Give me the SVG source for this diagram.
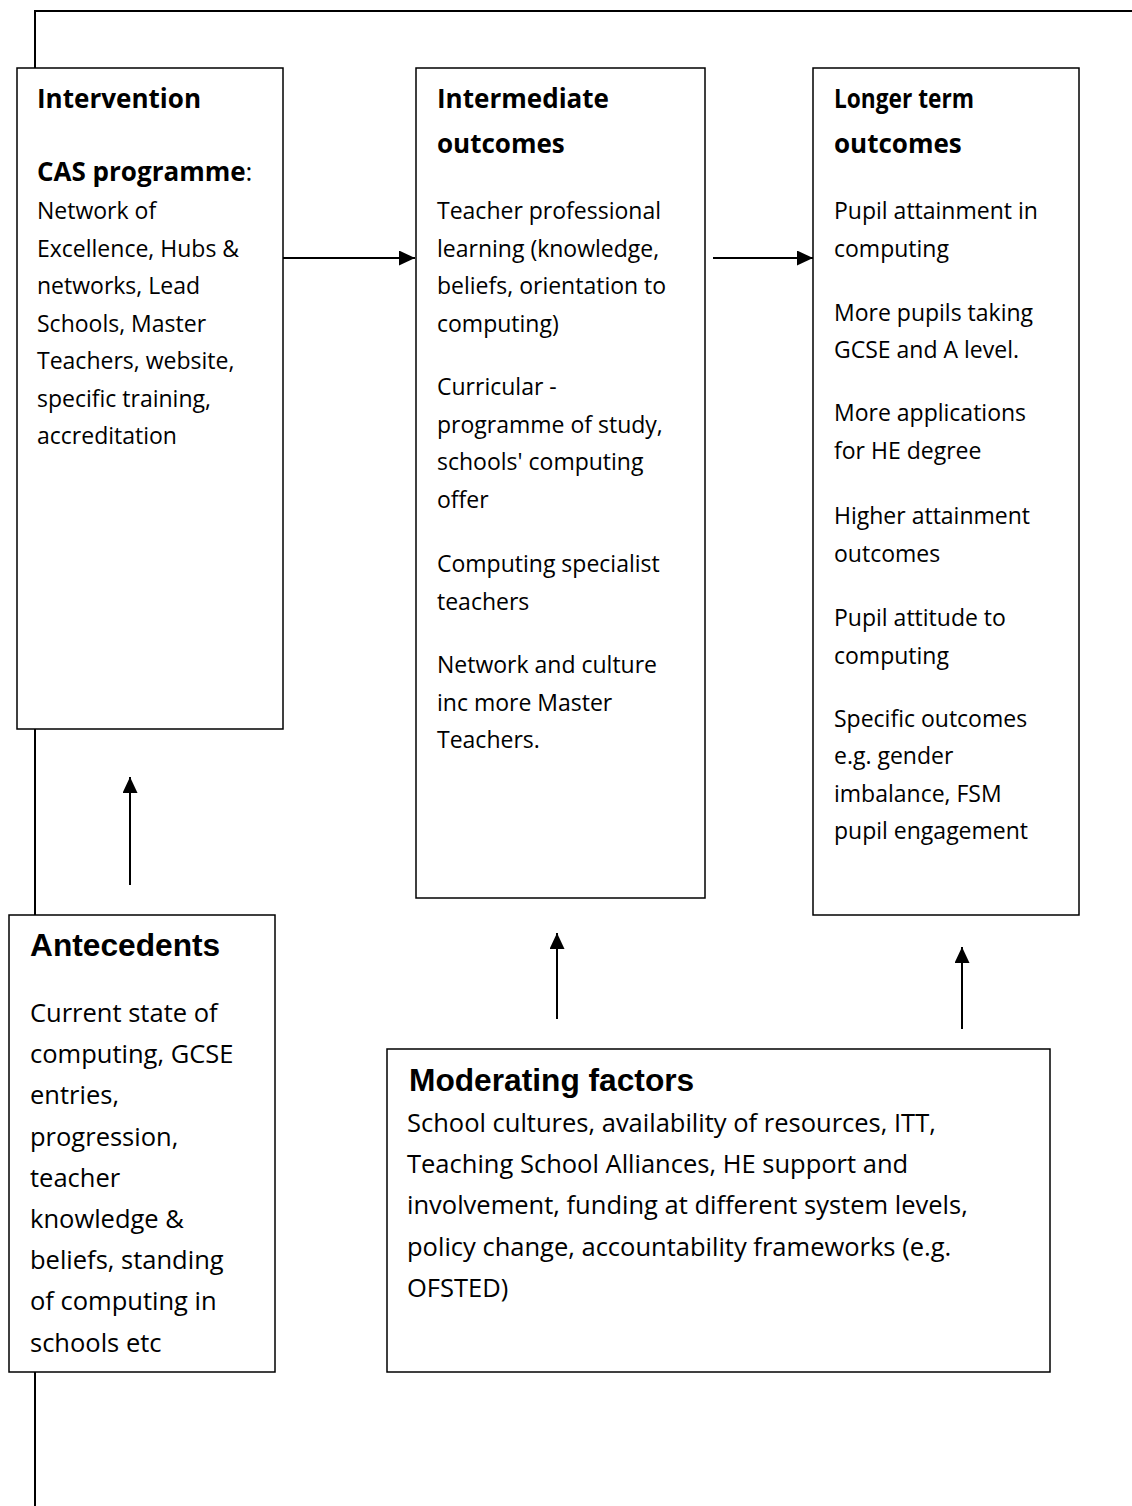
<svg xmlns="http://www.w3.org/2000/svg" width="1132" height="1506" viewBox="0 0 1132 1506">
<style>
.box{fill:#fff;stroke:#000;stroke-width:1.5}
.ln{fill:none;stroke:#000;stroke-width:2}
.h{font-family:"Open Sans","Noto Sans",sans-serif;font-weight:bold;font-size:26px;fill:#000}
.b{font-family:"Open Sans","Noto Sans",sans-serif;font-size:23px;fill:#000}
.c{font-family:"Open Sans","Noto Sans",sans-serif;font-size:25.5px;fill:#000}
.a{font-family:"Liberation Sans",Arial,sans-serif;font-weight:bold;font-size:31.7px;fill:#000}
</style>
<defs>
<marker id="arr" markerUnits="userSpaceOnUse" markerWidth="16" markerHeight="15" viewBox="0 0 16 15" refX="16" refY="7.5" orient="auto">
<path d="M0,0 L16,7.5 L0,15 Z" fill="#000"/>
</marker>
</defs>
<g id="connectors">
<polyline class="ln" points="35,68 35,11 1132,11"/>
<line class="ln" x1="35" y1="729" x2="35" y2="915"/>
<line class="ln" x1="35" y1="1372" x2="35" y2="1506"/>
<line class="ln" x1="283" y1="258" x2="415" y2="258" marker-end="url(#arr)"/>
<line class="ln" x1="713" y1="258" x2="813" y2="258" marker-end="url(#arr)"/>
<line class="ln" x1="130" y1="885" x2="130" y2="777" marker-end="url(#arr)"/>
<line class="ln" x1="557" y1="1019" x2="557" y2="933" marker-end="url(#arr)"/>
<line class="ln" x1="962" y1="1029" x2="962" y2="947" marker-end="url(#arr)"/>
</g>
<g id="intervention">
<rect class="box" x="17" y="68" width="266" height="661"/>
<text class="h" x="37" y="108" textLength="164" lengthAdjust="spacingAndGlyphs">Intervention</text>
<text class="h" x="37" y="181">CAS programme<tspan font-weight="normal">:</tspan></text>
<text class="b" x="37" y="219">Network of</text>
<text class="b" x="37" y="257">Excellence, Hubs &amp;</text>
<text class="b" x="37" y="294">networks, Lead</text>
<text class="b" x="37" y="332">Schools, Master</text>
<text class="b" x="37" y="369">Teachers, website,</text>
<text class="b" x="37" y="407">specific training,</text>
<text class="b" x="37" y="444">accreditation</text>
</g>
<g id="intermediate">
<rect class="box" x="416" y="68" width="289" height="830"/>
<text class="h" x="437" y="108" textLength="172" lengthAdjust="spacingAndGlyphs">Intermediate</text>
<text class="h" x="437" y="153">outcomes</text>
<text class="b" x="437" y="219">Teacher professional</text>
<text class="b" x="437" y="257">learning (knowledge,</text>
<text class="b" x="437" y="294">beliefs, orientation to</text>
<text class="b" x="437" y="332">computing)</text>
<text class="b" x="437" y="395">Curricular -</text>
<text class="b" x="437" y="433">programme of study,</text>
<text class="b" x="437" y="470">schools' computing</text>
<text class="b" x="437" y="508">offer</text>
<text class="b" x="437" y="572">Computing specialist</text>
<text class="b" x="437" y="610">teachers</text>
<text class="b" x="437" y="673">Network and culture</text>
<text class="b" x="437" y="711">inc more Master</text>
<text class="b" x="437" y="748">Teachers.</text>
</g>
<g id="longer-term">
<rect class="box" x="813" y="68" width="266" height="847"/>
<text class="h" x="834" y="108" font-size="25" textLength="140" lengthAdjust="spacingAndGlyphs">Longer term</text>
<text class="h" x="834" y="153">outcomes</text>
<text class="b" x="834" y="219">Pupil attainment in</text>
<text class="b" x="834" y="257">computing</text>
<text class="b" x="834" y="321">More pupils taking</text>
<text class="b" x="834" y="358">GCSE and A level.</text>
<text class="b" x="834" y="421">More applications</text>
<text class="b" x="834" y="459">for HE degree</text>
<text class="b" x="834" y="524">Higher attainment</text>
<text class="b" x="834" y="562">outcomes</text>
<text class="b" x="834" y="626">Pupil attitude to</text>
<text class="b" x="834" y="664">computing</text>
<text class="b" x="834" y="727">Specific outcomes</text>
<text class="b" x="834" y="764">e.g. gender</text>
<text class="b" x="834" y="802">imbalance, FSM</text>
<text class="b" x="834" y="839">pupil engagement</text>
</g>
<g id="antecedents">
<rect class="box" x="9" y="915" width="266" height="457"/>
<text class="a" x="30" y="956">Antecedents</text>
<text class="c" x="30" y="1022">Current state of</text>
<text class="c" x="30" y="1063">computing, GCSE</text>
<text class="c" x="30" y="1104">entries,</text>
<text class="c" x="30" y="1146">progression,</text>
<text class="c" x="30" y="1187">teacher</text>
<text class="c" x="30" y="1228">knowledge &amp;</text>
<text class="c" x="30" y="1269">beliefs, standing</text>
<text class="c" x="30" y="1310">of computing in</text>
<text class="c" x="30" y="1352">schools etc</text>
</g>
<g id="moderating">
<rect class="box" x="387" y="1049" width="663" height="323"/>
<text class="a" x="409" y="1091">Moderating factors</text>
<text class="c" x="407" y="1132">School cultures, availability of resources, ITT,</text>
<text class="c" x="407" y="1173">Teaching School Alliances, HE support and</text>
<text class="c" x="407" y="1214">involvement, funding at different system levels,</text>
<text class="c" x="407" y="1256">policy change, accountability frameworks (e.g.</text>
<text class="c" x="407" y="1297">OFSTED)</text>
</g>
</svg>
